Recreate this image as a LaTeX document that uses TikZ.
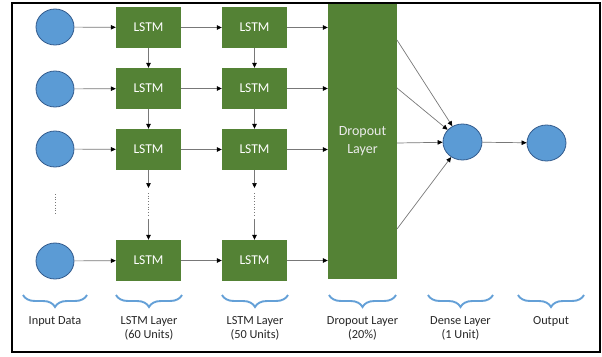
\documentclass[tikz,border=0pt]{standalone}
\usepackage{fontspec}
\setmainfont{Carlito}
\usetikzlibrary{arrows.meta,decorations.pathreplacing,calc,shapes.geometric}
\definecolor{lgreen}{RGB}{84,130,53}
\definecolor{cblue}{RGB}{91,155,213}
\definecolor{cborder}{RGB}{50,90,140}
\definecolor{bblue}{RGB}{100,160,215}
\definecolor{lgray}{RGB}{120,120,120}
\begin{document}
\begin{tikzpicture}[x=1pt,y=-1pt,
  circ/.style={ellipse,draw=cborder,fill=cblue,line width=0.8pt,minimum width=38pt,minimum height=36pt,inner sep=0pt},
  lstm/.style={rectangle,fill=lgreen,minimum width=65pt,minimum height=41pt,inner sep=0pt,text=white,font=\fontsize{13.5}{15}\selectfont},
  arr/.style={draw=lgray,line width=0.7pt,-{Triangle[length=5pt,width=4.5pt,color=black]}},
  brc/.style={draw=bblue,line width=1.9pt,decorate,decoration={brace,mirror,amplitude=12pt,aspect=0.5}},
  lbl/.style={align=center,text=black!85,font=\fontsize{12.3}{14}\selectfont,anchor=north,inner sep=0pt}
]
\useasboundingbox (0,0) rectangle (602,356);
\draw[line width=1.6pt] (12,3) rectangle (600,352);
% input circles
\node[circ] (i1) at (55,27) {};
\node[circ] (i2) at (55,89) {};
\node[circ] (i3) at (55,149) {};
\node[circ] (i4) at (55,261) {};
% LSTM col 1
\node[lstm] (a1) at (148.5,27.5) {LSTM};
\node[lstm] (a2) at (148.5,88.5) {LSTM};
\node[lstm] (a3) at (148.5,149.5) {LSTM};
\node[lstm] (a4) at (148.5,260.5) {LSTM};
% LSTM col 2
\node[lstm] (b1) at (254.5,27.5) {LSTM};
\node[lstm] (b2) at (254.5,88.5) {LSTM};
\node[lstm] (b3) at (254.5,149.5) {LSTM};
\node[lstm] (b4) at (254.5,260.5) {LSTM};
% dropout
\node[rectangle,fill=lgreen,minimum width=69pt,minimum height=275pt,inner sep=0pt,align=center,text=white!92!black,font=\fontsize{14}{18}\selectfont] (drop) at (362.5,141.5) {Dropout\\Layer};
% dense, output
\node[circ,minimum width=39pt] (dense) at (462.5,142) {};
\node[circ,minimum width=39pt] (out) at (546.5,143) {};
% horizontal arrows
\foreach \r in {1,2,3,4}{
  \draw[arr] (i\r) -- (a\r);
  \draw[arr] (a\r) -- (b\r);
  \draw[arr] (b\r.east) -- (b\r.east -| drop.west);
}
% vertical arrows
\draw[arr] (a1) -- (a2);
\draw[arr] (a2) -- (a3);
\draw[arr] (b1) -- (b2);
\draw[arr] (b2) -- (b3);
\coordinate (ca1) at (148.5,188);
\coordinate (ca2) at (148.5,193);
\coordinate (ca3) at (148.5,215);
\coordinate (ca4) at (148.5,219);
\coordinate (cb1) at (254.5,188);
\coordinate (cb2) at (254.5,193);
\coordinate (cb3) at (254.5,215);
\coordinate (cb4) at (254.5,219);
\draw[arr] (a3) -- (ca1);
\draw[lgray,dotted,line width=0.7pt] (ca2) -- (ca3);
\draw[arr] (ca4) -- (a4);
\draw[arr] (b3) -- (cb1);
\draw[lgray,dotted,line width=0.7pt] (cb2) -- (cb3);
\draw[arr] (cb4) -- (b4);
\coordinate (id1) at (55,194);
\coordinate (id2) at (55,213);
\draw[lgray,dotted,line width=0.7pt] (id1) -- (id2);
% dropout to dense
\coordinate (d1) at (397,40);
\coordinate (d2) at (397,88);
\coordinate (d3) at (397,143);
\coordinate (d4) at (397,229);
\foreach \k in {1,2,3,4}{ \draw[arr] (d\k) -- (dense); }
\draw[arr] (dense) -- (out);
% braces
\draw[brc] (23,295) -- (87,295);
\draw[brc] (116,295) -- (182,295);
\draw[brc] (222,295) -- (288,295);
\draw[brc] (329,295) -- (396,295);
\draw[brc] (428,295) -- (493,295);
\draw[brc] (518,295) -- (584,295);
\node[lbl] (l1) at (55,316) {Input Data};
\node[lbl] (l2) at (149,316) {LSTM Layer\\(60 Units)};
\node[lbl] (l3) at (255,316) {LSTM Layer\\(50 Units)};
\node[lbl] (l4) at (362.5,316) {Dropout Layer\\(20\%)};
\node[lbl] (l5) at (460.5,316) {Dense Layer\\(1 Unit)};
\node[lbl] (l6) at (551,316) {Output};
\end{tikzpicture}
\end{document}
